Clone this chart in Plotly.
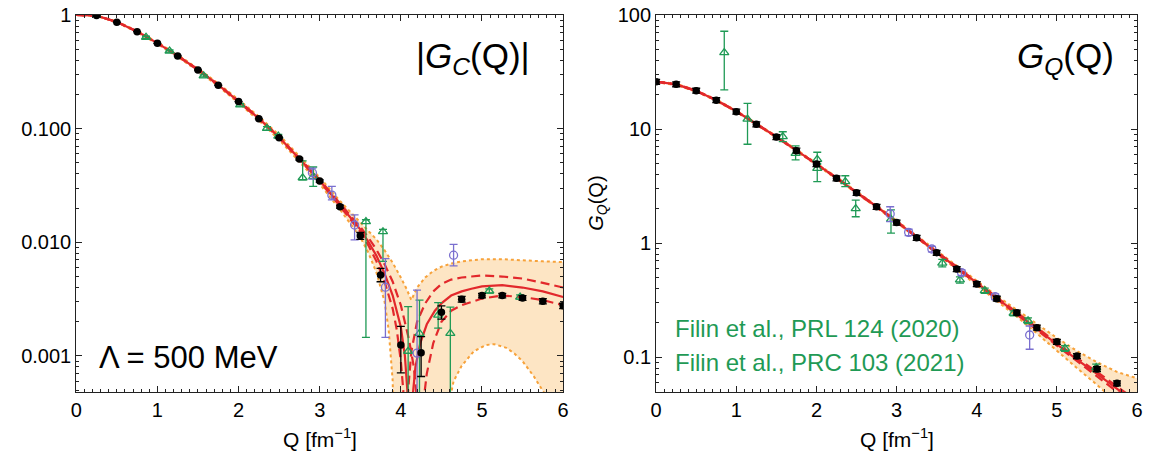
import plotly.graph_objects as go

# ---------------- |G_C(Q)| panel data ----------------
gc_black_q = [0.25, 0.5, 0.75, 1.0, 1.25, 1.5, 1.75, 2.0, 2.25, 2.5, 2.75, 3.0, 3.25, 3.5,
              3.75, 4.0, 4.25, 4.5, 4.75, 5.0, 5.25, 5.5, 5.75, 6.0]
gc_black = [0.99, 0.863, 0.713, 0.563, 0.436, 0.328, 0.241, 0.173, 0.122, 0.083, 0.054, 0.0347,
            0.0206, 0.0114, 0.00517, 0.00125, 0.00107, 0.00243, 0.00316, 0.0034, 0.0034,
            0.00324, 0.00303, 0.00276]
gc_black_hi = [0.99, 0.863, 0.713, 0.563, 0.436, 0.328, 0.241, 0.173, 0.122, 0.083, 0.055, 0.0355,
               0.0212, 0.0122, 0.0059, 0.00182, 0.00148, 0.00276, 0.00334, 0.00356, 0.00356,
               0.0034, 0.00319, 0.00291]
gc_black_lo = [0.99, 0.863, 0.713, 0.563, 0.436, 0.328, 0.241, 0.173, 0.122, 0.083, 0.053, 0.0339,
               0.0200, 0.0106, 0.0045, 0.00071, 0.00066, 0.00211, 0.00298, 0.00324, 0.00324,
               0.00308, 0.00287, 0.00261]

gc_green_q = [0.86, 1.15, 1.57, 2.02, 2.35, 2.49, 2.79, 2.92, 3.57, 3.78, 4.09, 4.23, 4.46, 4.61, 5.09, 5.47]
gc_green = [0.637, 0.482, 0.291, 0.162, 0.1007, 0.086, 0.037, 0.0378, 0.0152, 0.0124, 0.0011,
            0.00158, 0.00229, 0.00158, 0.00373, 0.0033]
gc_green_hi = [0.65, 0.492, 0.297, 0.166, 0.104, 0.089, 0.052, 0.046, 0.0158, 0.0130, 0.00272,
               0.0031, 0.00295, 0.00269, 0.0039, 0.00345]
gc_green_lo = [0.624, 0.472, 0.285, 0.158, 0.097, 0.083, 0.0355, 0.031, 0.00146, 0.0068, 1e-5,
               1e-5, 0.00176, 1e-5, 0.00357, 0.00316]

gc_blue_q = [2.91, 3.15, 3.43, 3.81, 4.20, 4.65]
gc_blue = [0.041, 0.026, 0.0142, 0.00403, 0.00106, 0.0077]
gc_blue_hi = [0.045, 0.031, 0.0174, 0.0072, 0.0038, 0.0096]
gc_blue_lo = [0.036, 0.0236, 0.0105, 0.00146, 1e-5, 0.0062]

# theory curves (|G_C|), shared low-Q grid + individual tails
gc_th_q_low = [0, 0.25, 0.5, 0.75, 1.0, 1.25, 1.5, 1.75, 2.0, 2.25, 2.5, 2.75, 3.0, 3.25, 3.5]

gc_solid_low = [1.0, 0.986, 0.868, 0.716, 0.566, 0.437, 0.330, 0.243, 0.174, 0.123, 0.084, 0.0545,
                0.0350, 0.0213, 0.0130]
gc_solid_tq = [3.6, 3.7, 3.8, 3.9, 4.0, 4.05, 4.08, 4.11, 4.14, 4.18, 4.24, 4.32, 4.42, 4.5, 4.62,
               4.75, 4.87, 5.0, 5.25, 5.5, 5.75, 6.0]
gc_solid_tv = [0.0101, 0.0076, 0.0053, 0.0034, 0.0018, 0.0010, 0.0005, 1e-5, 0.0004, 0.0008, 0.0013,
               0.0019, 0.0025, 0.0029, 0.0034, 0.0037, 0.0039, 0.0041, 0.0042, 0.0040, 0.0037, 0.0033]

gc_dashA_low = [1.0, 0.985, 0.866, 0.714, 0.564, 0.435, 0.328, 0.241, 0.172, 0.122, 0.083, 0.0538,
                0.0344, 0.0208, 0.0124]
gc_dashA_tq = [3.6, 3.7, 3.8, 3.9, 3.95, 4.0, 4.03, 4.06, 4.09, 4.13, 4.2, 4.3, 4.4, 4.5, 4.62, 4.75,
               4.87, 5.0, 5.25, 5.5, 5.75, 6.0]
gc_dashA_tv = [0.0094, 0.0068, 0.0045, 0.0026, 0.0017, 0.0009, 0.0005, 1e-5, 0.0005, 0.0011, 0.0020,
               0.0029, 0.0037, 0.0043, 0.0047, 0.0049, 0.0050, 0.0051, 0.0050, 0.0048, 0.0044, 0.0040]

gc_dashB_low = [1.0, 0.987, 0.870, 0.718, 0.568, 0.439, 0.332, 0.245, 0.176, 0.125, 0.085, 0.0552,
                0.0356, 0.0219, 0.0137]
gc_dashB_tq = [3.6, 3.7, 3.8, 3.9, 4.0, 4.1, 4.16, 4.2, 4.24, 4.28, 4.32, 4.4, 4.5, 4.62, 4.75, 4.87,
               5.0, 5.25, 5.5, 5.75, 6.0]
gc_dashB_tv = [0.0110, 0.0086, 0.0064, 0.0045, 0.0028, 0.0014, 0.0008, 0.0004, 1e-5, 0.0004, 0.0007,
               0.0013, 0.0020, 0.0025, 0.0028, 0.0030, 0.0032, 0.0034, 0.0033, 0.0031, 0.0028]

gc_bandhi_low = [1.0, 0.99, 0.876, 0.725, 0.575, 0.446, 0.338, 0.250, 0.180, 0.128, 0.088, 0.0575,
                 0.0372, 0.0231, 0.0150]
gc_bandhi_tq = [3.6, 3.7, 3.8, 3.9, 4.0, 4.07, 4.13, 4.2, 4.3, 4.4, 4.5, 4.62, 4.75, 5.0, 5.25, 5.5,
                5.75, 6.0]
gc_bandhi_tv = [0.0128, 0.0106, 0.0085, 0.0066, 0.0049, 0.0039, 0.0031, 0.0040, 0.0049, 0.0056,
                0.0061, 0.0065, 0.0068, 0.0071, 0.0071, 0.0070, 0.0068, 0.0067]

gc_bandlo_low = [1.0, 0.981, 0.860, 0.707, 0.557, 0.428, 0.322, 0.236, 0.168, 0.118, 0.080, 0.0515,
                 0.0326, 0.0194, 0.0111]
gc_bandlo_tq = [3.6, 3.7, 3.8, 3.85, 3.9, 3.93, 4.57, 4.6, 4.65, 4.75, 4.9, 5.05, 5.15, 5.3, 5.4, 5.5,
                5.64, 5.76, 5.85, 6.0]
gc_bandlo_tv = [0.0081, 0.0054, 0.0030, 0.0017, 0.0006, 1e-5, 1e-5, 0.0004, 0.0006, 0.00082, 0.0011,
                0.00125, 0.00127, 0.00118, 0.00105, 0.0009, 0.00066, 0.00048, 0.0003, 0.0001]

# ---------------- G_Q(Q) panel data ----------------
gq_black_q = [0, 0.25, 0.5, 0.75, 1.0, 1.25, 1.5, 1.75, 2.0, 2.25, 2.5, 2.75, 3.0, 3.25, 3.5, 3.75,
              4.0, 4.25, 4.5, 4.75, 5.0, 5.25, 5.5, 5.75]
gq_black = [26.0, 24.7, 21.7, 17.9, 14.2, 11.0, 8.5, 6.46, 4.93, 3.69, 2.76, 2.08, 1.51, 1.11, 0.822,
            0.591, 0.437, 0.325, 0.245, 0.181, 0.136, 0.102, 0.0785, 0.0588]
gq_black_err_pct = 5

gq_green_q = [0.85, 1.14, 1.58, 1.74, 2.01, 2.01, 2.36, 2.49, 2.93, 3.57, 3.79, 4.10, 4.46, 4.64, 5.10, 5.49]
gq_green = [46.8, 12.2, 8.57, 6.12, 5.42, 4.52, 3.45, 2.0, 1.61, 0.667, 0.474, 0.382, 0.242, 0.208,
            0.119, 0.0806]
gq_green_hi = [72.0, 16.8, 9.46, 7.1, 6.25, 5.0, 3.89, 2.38, 1.95, 0.717, 0.504, 0.402, 0.254, 0.220,
               0.126, 0.0866]
gq_green_lo = [22.0, 7.35, 7.74, 5.35, 4.9, 3.45, 3.12, 1.70, 1.22, 0.617, 0.444, 0.362, 0.230, 0.196,
               0.112, 0.0746]

gq_blue_q = [2.92, 3.15, 3.44, 3.81, 4.23, 4.66]
gq_blue = [1.80, 1.24, 0.886, 0.55, 0.338, 0.156]
gq_blue_hi = [2.08, 1.32, 0.936, 0.58, 0.358, 0.187]
gq_blue_lo = [1.54, 1.16, 0.836, 0.52, 0.318, 0.117]

gq_th_q = [0, 0.25, 0.5, 0.75, 1.0, 1.25, 1.5, 1.75, 2.0, 2.25, 2.5, 2.75, 3.0, 3.25, 3.5, 3.75,
           4.0, 4.25, 4.5, 4.75, 5.0, 5.25, 5.5, 5.75, 6.0]
gq_solid = [26.0, 24.6, 21.6, 17.9, 14.3, 11.1, 8.55, 6.5, 4.95, 3.72, 2.78, 2.09, 1.54, 1.13, 0.835,
            0.605, 0.445, 0.328, 0.242, 0.177, 0.129, 0.095, 0.071, 0.052, 0.039]
gq_dash1 = [26.1, 24.7, 21.7, 18.0, 14.35, 11.15, 8.6, 6.53, 4.98, 3.74, 2.80, 2.11, 1.555, 1.14,
            0.845, 0.613, 0.451, 0.333, 0.246, 0.181, 0.132, 0.098, 0.074, 0.0545, 0.041]
gq_dash2 = [25.9, 24.5, 21.5, 17.8, 14.25, 11.05, 8.5, 6.47, 4.92, 3.70, 2.76, 2.07, 1.525, 1.12,
            0.825, 0.597, 0.439, 0.323, 0.238, 0.173, 0.126, 0.092, 0.068, 0.0495, 0.037]
gq_bandhi = [26.3, 24.9, 21.9, 18.15, 14.5, 11.25, 8.67, 6.6, 5.03, 3.79, 2.83, 2.13, 1.57, 1.155,
             0.856, 0.624, 0.463, 0.344, 0.259, 0.195, 0.147, 0.113, 0.090, 0.074, 0.065]
gq_bandlo = [25.7, 24.3, 21.3, 17.65, 14.1, 10.95, 8.43, 6.4, 4.87, 3.65, 2.73, 2.05, 1.51, 1.105,
             0.815, 0.585, 0.428, 0.312, 0.226, 0.161, 0.113, 0.080, 0.057, 0.040, 0.028]

# ---------------- styling ----------------
RED = "#e2282c"
ORANGE = "#f7a23a"
BAND = "rgba(253,224,186,0.85)"
GREEN = "#1f9a55"
BLUE = "#7a6fcf"
FONT = "Liberation Sans, Arial, Helvetica, sans-serif"
W, H = 1149, 453
MT, MB = 15, 61


def px_x(p):
    return p / W


def px_y(p):
    return (H - MB - p) / (H - MT - MB)


fig = go.Figure()


def band(qhi, vhi, qlo, vlo, xa, ya):
    fig.add_trace(go.Scatter(x=qhi + qlo[::-1], y=vhi + vlo[::-1], fill="toself", fillcolor=BAND,
                             mode="lines", line=dict(width=0), hoverinfo="skip", xaxis=xa, yaxis=ya))
    for q, v in ((qhi, vhi), (qlo, vlo)):
        fig.add_trace(go.Scatter(x=q, y=v, mode="lines", line=dict(color=ORANGE, width=2, dash="3px,3px"),
                                 xaxis=xa, yaxis=ya))


def curve(q, v, xa, ya, dash=None):
    fig.add_trace(go.Scatter(x=q, y=v, mode="lines",
                             line=dict(color=RED, width=2.2, dash=dash if dash else "solid"),
                             xaxis=xa, yaxis=ya))


def pts(q, v, hi, lo, color, symbol, size, xa, ya, filled=False):
    fig.add_trace(go.Scatter(
        x=q, y=v, mode="markers",
        marker=dict(symbol=symbol, size=size, color=color,
                    line=dict(color=color, width=0 if filled else 1.3)),
        error_y=dict(type="data", symmetric=False,
                     array=[h - c for h, c in zip(hi, v)],
                     arrayminus=[c - l for c, l in zip(v, lo)],
                     color=color, thickness=1.3, width=4),
        xaxis=xa, yaxis=ya))


# left panel
band(gc_th_q_low + gc_bandhi_tq, gc_bandhi_low + gc_bandhi_tv,
     gc_th_q_low + gc_bandlo_tq, gc_bandlo_low + gc_bandlo_tv, "x", "y")
curve(gc_th_q_low + gc_dashA_tq, gc_dashA_low + gc_dashA_tv, "x", "y", dash="9px,5px")
curve(gc_th_q_low + gc_dashB_tq, gc_dashB_low + gc_dashB_tv, "x", "y", dash="9px,5px")
curve(gc_th_q_low + gc_solid_tq, gc_solid_low + gc_solid_tv, "x", "y")
pts(gc_green_q, gc_green, gc_green_hi, gc_green_lo, GREEN, "triangle-up-open", 8, "x", "y")
pts(gc_blue_q, gc_blue, gc_blue_hi, gc_blue_lo, BLUE, "circle-open", 8, "x", "y")
pts(gc_black_q, gc_black, gc_black_hi, gc_black_lo, "black", "circle", 7.5, "x", "y", filled=True)

# right panel
band(gq_th_q, gq_bandhi, gq_th_q, gq_bandlo, "x2", "y2")
curve(gq_th_q, gq_dash1, "x2", "y2", dash="9px,5px")
curve(gq_th_q, gq_dash2, "x2", "y2", dash="9px,5px")
curve(gq_th_q, gq_solid, "x2", "y2")
pts(gq_green_q, gq_green, gq_green_hi, gq_green_lo, GREEN, "triangle-up-open", 8, "x2", "y2")
pts(gq_blue_q, gq_blue, gq_blue_hi, gq_blue_lo, BLUE, "circle-open", 8, "x2", "y2")
fig.add_trace(go.Scatter(x=gq_black_q, y=gq_black, mode="markers",
                         marker=dict(symbol="circle", size=7.5, color="black"),
                         error_y=dict(type="percent", value=gq_black_err_pct, color="black",
                                      thickness=1.3, width=4),
                         xaxis="x2", yaxis="y2"))

xcommon = dict(range=[0, 6], tickvals=[0, 1, 2, 3, 4, 5, 6], ticks="inside", ticklen=6, tickwidth=1,
               tickcolor="#222", showline=True, linecolor="#222", linewidth=1, mirror="ticks",
               showgrid=False, zeroline=False, tickfont=dict(size=20, family=FONT, color="black"),
               minor=dict(dtick=0.1, tick0=0, ticks="inside", ticklen=3, tickcolor="#222", showgrid=False))


def log_minor(lo, hi):
    out = []
    for d in range(lo, hi):
        for k in range(2, 10):
            out.append(k * 10.0 ** d)
    return out


ycommon = dict(type="log", ticks="inside", ticklen=6, tickwidth=1, tickcolor="#222", showline=True,
               linecolor="#222", linewidth=1, mirror="ticks", showgrid=False, zeroline=False,
               tickfont=dict(size=20, family=FONT, color="black"))

fig.update_layout(
    width=W, height=H,
    margin=dict(l=0, r=0, t=MT, b=MB),
    paper_bgcolor="white", plot_bgcolor="white",
    showlegend=False,
    font=dict(family=FONT, color="black"),
    xaxis=dict(domain=[px_x(71), px_x(563)], anchor="y", **xcommon),
    xaxis2=dict(domain=[px_x(657), px_x(1143)], anchor="y2", **xcommon),
    yaxis=dict(anchor="x", range=[-3.317, 0], tickvals=[1, 0.1, 0.01, 0.001],
               ticktext=["1", "0.100", "0.010", "0.001"],
               minor=dict(tickmode="array", tickvals=log_minor(-4, 0), ticks="inside", ticklen=3,
                          tickcolor="#222", showgrid=False),
               **ycommon),
    yaxis2=dict(anchor="x2", range=[-1.307, 2], tickvals=[100, 10, 1, 0.1],
                ticktext=["100", "10", "1", "0.1"],
                minor=dict(tickmode="array", tickvals=log_minor(-2, 2), ticks="inside", ticklen=3,
                           tickcolor="#222", showgrid=False),
                **ycommon),
)

ann = [
    dict(text="|<i>G</i><sub><i>C</i></sub>(Q)|", x=px_x(472), y=px_y(58), size=35, xanchor="center"),
    dict(text="<i>G</i><sub><i>Q</i></sub>(Q)", x=px_x(1071), y=px_y(58), size=35, xanchor="center"),
    dict(text="Λ = 500 MeV", x=px_x(184), y=px_y(357), size=31, xanchor="center"),
    dict(text="Q [fm<sup>−1</sup>]", x=px_x(317), y=px_y(438), size=21, xanchor="center"),
    dict(text="Q [fm<sup>−1</sup>]", x=px_x(900), y=px_y(438), size=21, xanchor="center"),
]
for a in ann:
    fig.add_annotation(text=a["text"], x=a["x"], y=a["y"], xref="paper", yref="paper",
                       xanchor=a["xanchor"], yanchor="middle", showarrow=False,
                       font=dict(size=a["size"], family=FONT, color="black"))

fig.add_annotation(text="<i>G</i><sub><i>Q</i></sub>(Q)", x=px_x(597), y=px_y(203), xref="paper",
                   yref="paper", textangle=-90, showarrow=False, xanchor="center", yanchor="middle",
                   font=dict(size=20, family=FONT, color="black"))
for txt, yy in (("Filin et al., PRL 124 (2020)", 328), ("Filin et al., PRC 103 (2021)", 362)):
    fig.add_annotation(text=txt, x=px_x(674), y=px_y(yy), xref="paper", yref="paper",
                       xanchor="left", yanchor="middle", showarrow=False,
                       font=dict(size=24, family=FONT, color=GREEN))

fig.write_html("out.html")
